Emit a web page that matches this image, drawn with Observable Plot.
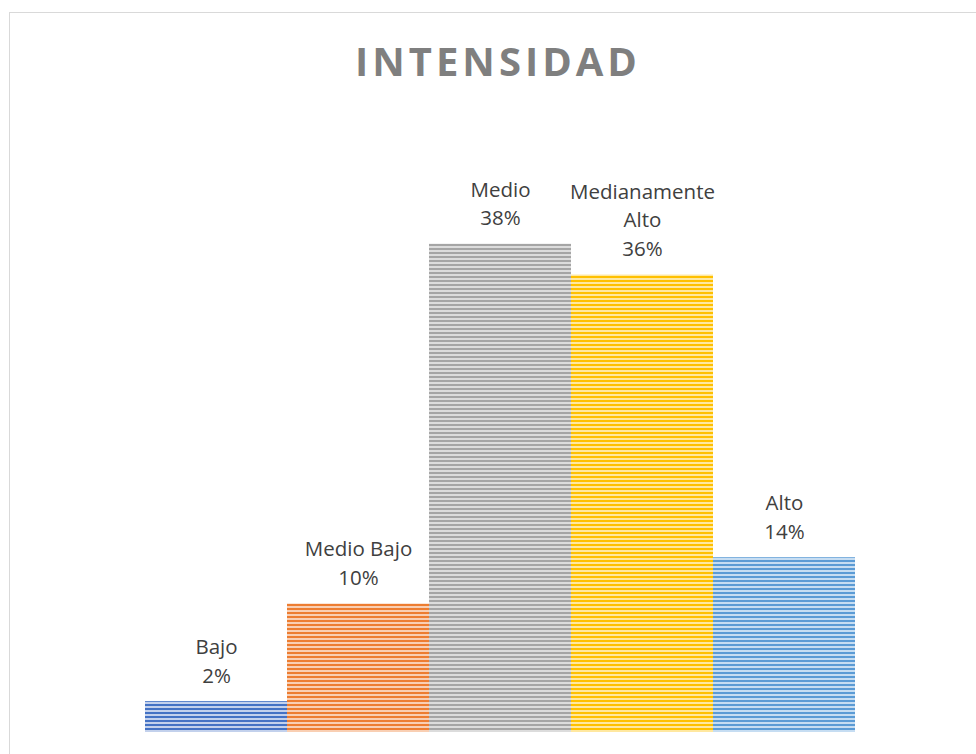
<!DOCTYPE html>
<html>
<head>
<meta charset="utf-8">
<script src="https://cdn.jsdelivr.net/npm/d3@7"></script>
<script src="https://cdn.jsdelivr.net/npm/@observablehq/plot@0.6"></script>
<style>
  html, body { margin: 0; padding: 0; background: #fff; overflow: hidden; width: 976px; height: 754px; }
  #wrap { position: relative; width: 976px; height: 754px; }
  #border { position: absolute; left: 9px; top: 12px; width: 1100px; height: 900px; border: 1.5px solid #d9d9d9; box-sizing: border-box; }
  #title { position: absolute; left: 0; width: 996px; top: 34px; text-align: center; font-family: "Open Sans", sans-serif; font-weight: bold; font-size: 40px; letter-spacing: 4px; color: #7f7f7f; line-height: 54px; }
  #chart { position: absolute; left: 0; top: 0; }
</style>
</head>
<body>
<div id="wrap">
  <div id="border"></div>
  <div id="title">INTENSIDAD</div>
  <div id="chart"></div>
</div>
<script>
const categories = ["Bajo", "Medio Bajo", "Medio", "Medianamente Alto", "Alto"];
const labelLines = ["Bajo", "Medio Bajo", "Medio", "Medianamente\nAlto", "Alto"];
const values = [2.4, 10, 38, 35.6, 13.6];
const darkColors = ["#4472C4", "#ED7D31", "#A5A5A5", "#FFC000", "#5B9BD5"];
const lightColors = ["#c3d1ec", "#f9cfb3", "#dcdcdc", "#ffe8a0", "#c6ddf2"];

const data = categories.map((c, i) => ({
  cat: c,
  value: values[i],
  label: labelLines[i] + "\n" + Math.round(values[i]) + "%",
  pid: "pat" + i
}));

const chart = Plot.plot({
  width: 976,
  height: 754,
  marginLeft: 145,
  marginRight: 121,
  marginTop: 218,
  marginBottom: 22,
  x: { domain: categories, padding: 0, axis: null },
  y: { domain: [0, 40], axis: null },
  marks: [
    Plot.barY(data, { x: "cat", y: "value", fill: d => `url(#${d.pid})`, inset: 0 }),
    Plot.text(data, {
      x: "cat", y: "value", text: "label",
      lineAnchor: "bottom", dy: -19, lineHeight: 1.4,
      fontSize: 20.5, fill: "#404040",
      fontFamily: "Open Sans, sans-serif"
    })
  ]
});

const svg = d3.select(chart);
const defs = svg.insert("defs", ":first-child");
darkColors.forEach((c, i) => {
  const p = defs.append("pattern")
    .attr("id", "pat" + i)
    .attr("patternUnits", "userSpaceOnUse")
    .attr("width", 4).attr("height", 4);
  p.append("rect").attr("width", 4).attr("height", 4).attr("fill", lightColors[i]);
  p.append("rect").attr("width", 4).attr("height", 2).attr("fill", c);
});
svg.style("background", "transparent");
document.getElementById("chart").appendChild(chart);
</script>
</body>
</html>
